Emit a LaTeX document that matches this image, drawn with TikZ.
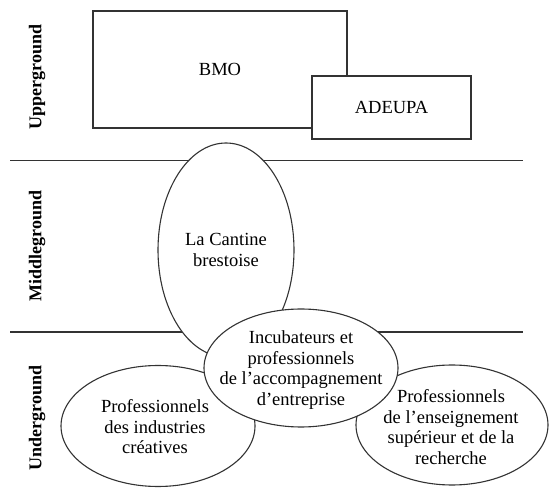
\documentclass[tikz,border=0pt]{standalone}
\usepackage{fontspec}
\setmainfont{Liberation Serif}
\usetikzlibrary{shapes.geometric}

\tikzset{
  divider/.style={draw=black!80, line width=1.1pt},
  box/.style={draw=black!80, line width=1.1pt, fill=white, inner sep=0pt, font=\fontsize{18.5}{20.5}\selectfont},
  actor/.style={draw=black!80, line width=1.1pt, fill=white, ellipse, inner sep=0pt},
  actortext/.style={align=center, inner sep=0pt, font=\fontsize{18.5}{20.5}\selectfont},
  stratum/.style={rotate=90, inner sep=0pt, font=\bfseries\fontsize{18}{20}\selectfont}
}

\begin{document}
\begin{tikzpicture}[x=1pt,y=-1pt]
\useasboundingbox (0,0) rectangle (560,494);
% strata dividers
\coordinate (upperL) at (10,160.7);
\coordinate (upperR) at (523,160.7);
\coordinate (lowerL) at (10,332);
\coordinate (lowerR) at (523,332);
\draw[divider] (upperL) -- (upperR);
\draw[divider] (lowerL) -- (lowerR);
\node[stratum] (upper) at (37,77) {Upperground};
\node[stratum] (middle) at (37,246) {Middleground};
\node[stratum] (under) at (37,418) {Underground};
% upperground
\node[box, minimum width=254pt, minimum height=117pt] (bmo) at (220,69.5) {BMO};
\node[box, minimum width=159pt, minimum height=63pt] (adeupa) at (391.5,107.5) {ADEUPA};
% middleground
\node[actor, minimum width=136pt, minimum height=214pt] (cantine) at (226,250) {};
\node[actortext] (cantinetext) at (cantine) {La Cantine\\brestoise};
% underground
\node[actor, minimum width=194pt, minimum height=121pt] (creatives) at (158,426) {};
\node[actortext] (creativestext) at (155,427) {Professionnels\\des industries\\créatives};
\node[actor, minimum width=192pt, minimum height=120pt] (recherche) at (452,425) {};
\node[actortext] (recherchetext) at (451,427) {Professionnels\\de l’enseignement\\supérieur et de la\\recherche};
\node[actor, minimum width=194pt, minimum height=118pt] (incub) at (301,368) {};
\node[actortext] (incubtext) at (301,370) {Incubateurs et\\professionnels\\de l’accompagnement\\d’entreprise};
\end{tikzpicture}
\end{document}
